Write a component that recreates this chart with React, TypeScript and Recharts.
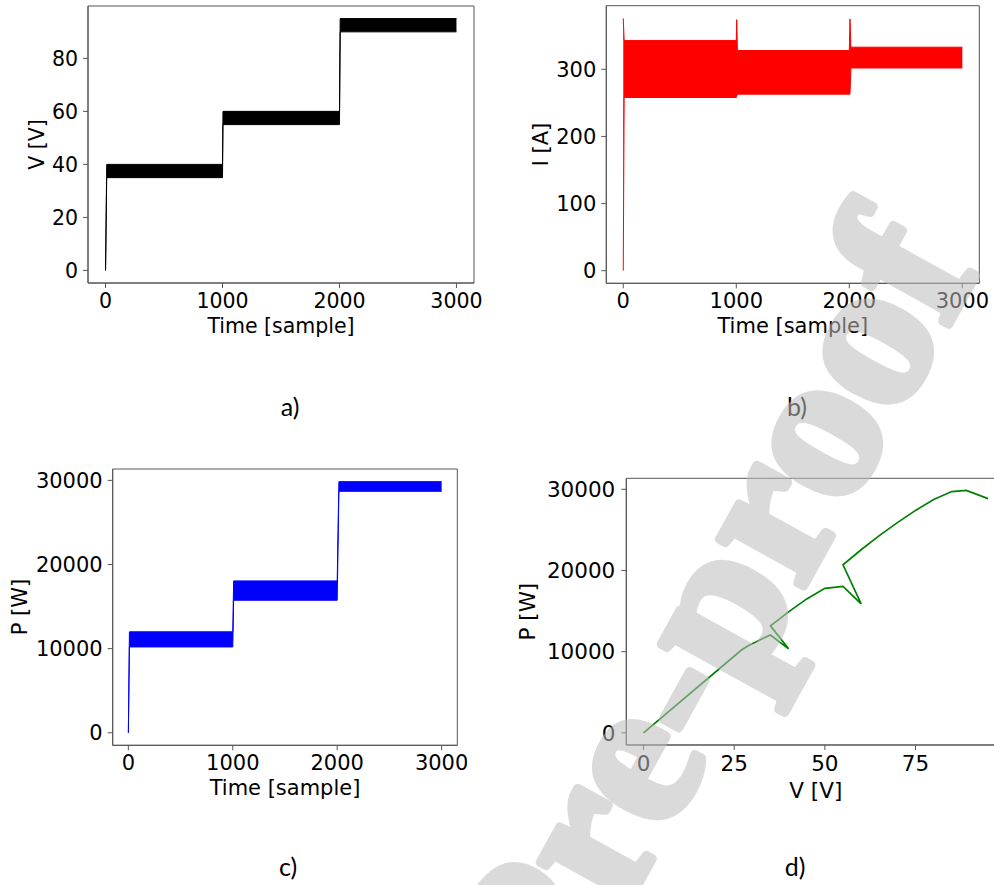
import { AreaChart, Area, LineChart, Line, XAxis, YAxis, ReferenceArea, Label } from 'recharts';

const sampleTicks = [0, 1000, 2000, 3000];
const voltageTicks = [0, 20, 40, 60, 80];
const currentTicks = [0, 100, 200, 300];
const powerTicks = [0, 10000, 20000, 30000];
const pvVoltageTicks = [0, 25, 50, 75];

// min / max envelope of the fast switching signals, per sample
const vSamples = [0, 10, 1000, 1004, 2000, 2006, 3000];
const vMin = [0, 35, 35, 55, 55, 90, 90];
const vMax = [0, 40, 40, 60, 60, 95, 95];

const iSamples = [0, 8, 1000, 1004, 1010, 2000, 2006, 2014, 3000];
const iMin = [0, 258, 258, 260, 263, 263, 263, 302, 302];
const iMax = [376, 343, 343, 374, 328, 328, 375, 333, 333];

const pSamples = [0, 10, 1000, 1008, 2000, 2016, 3000];
const pMin = [0, 10200, 10200, 15750, 15750, 28700, 28700];
const pMax = [0, 12000, 12000, 18050, 18050, 29850, 29850];

// P-V trace
const pvVoltage = [0, 27, 29, 31, 33, 35, 40, 35, 40, 45, 50, 55, 60, 55, 60, 65, 70, 75, 80, 85, 89, 95];
const pvPower = [0, 10200, 10750, 11200, 11650, 12050, 10350, 13180, 14900, 16500, 17800, 18050, 15900, 20700, 22550, 24300, 25900, 27400, 28750, 29720, 29870, 28850];

const vData = vSamples.map((t, i) => ({ t, band: [vMin[i], vMax[i]] }));
const iData = iSamples.map((t, i) => ({ t, band: [iMin[i], iMax[i]] }));
const pData = pSamples.map((t, i) => ({ t, band: [pMin[i], pMax[i]] }));
const pvData = pvVoltage.map((v, i) => ({ v, p: pvPower[i] }));

const axisColor = '#555';
const font = 'DejaVu Sans, sans-serif';

interface Box {
  left: number;
  top: number;
  width: number;
  height: number;
  mt: number;
  yw: number;
  xh: number;
}

interface BandPanelProps {
  data: { t: number; band: number[] }[];
  color: string;
  yTicks: number[];
  yDomain: [number, number];
  yLabel: string;
  box: Box;
  fontSize: number;
  yLabelDx: number;
  xLabelDy: number;
}

function BandPanel({ data, color, yTicks, yDomain, yLabel, box, fontSize, yLabelDx, xLabelDy }: BandPanelProps) {
  const xDomain: [number, number] = [-150, 3150];
  const tick = { fontSize, fill: '#000', fontFamily: font };
  return (
    <div style={{ position: 'absolute', left: box.left, top: box.top }}>
      <AreaChart width={box.width} height={box.height} data={data} margin={{ top: box.mt, right: 10, left: 0, bottom: 0 }}>
        <XAxis
          type="number"
          dataKey="t"
          domain={xDomain}
          allowDataOverflow
          ticks={sampleTicks}
          interval={0}
          height={box.xh}
          stroke={axisColor}
          tickSize={5}
          tickMargin={5}
          tick={tick}
        >
          <Label value="Time [sample]" position="center" dy={xLabelDy} fontSize={fontSize} fill="#000" fontFamily={font} />
        </XAxis>
        <YAxis
          type="number"
          domain={yDomain}
          allowDataOverflow
          ticks={yTicks}
          interval={0}
          width={box.yw}
          stroke={axisColor}
          tickSize={5}
          tickMargin={5}
          tick={tick}
        >
          <Label value={yLabel} angle={-90} position="center" dx={yLabelDx} fontSize={fontSize} fill="#000" fontFamily={font} />
        </YAxis>
        <ReferenceArea x1={xDomain[0]} x2={xDomain[1]} y1={yDomain[0]} y2={yDomain[1]} fill="none" stroke={axisColor} ifOverflow="visible" />
        <Area
          type="linear"
          dataKey="band"
          stroke={color}
          strokeWidth={1}
          fill={color}
          fillOpacity={1}
          dot={false}
          activeDot={false}
          isAnimationActive={false}
        />
      </AreaChart>
    </div>
  );
}

function PowerVoltagePanel() {
  const xDomain: [number, number] = [-4.75, 99.75];
  const yDomain: [number, number] = [-1493, 31353];
  const fontSize = 21.5;
  const tick = { fontSize, fill: '#000', fontFamily: font };
  return (
    <div style={{ position: 'absolute', left: 500, top: 450 }}>
      <LineChart width={515.3} height={360} data={pvData} margin={{ top: 28.3, right: 10, left: 0, bottom: 0 }}>
        <XAxis
          type="number"
          dataKey="v"
          domain={xDomain}
          allowDataOverflow
          ticks={pvVoltageTicks}
          interval={0}
          height={65}
          stroke={axisColor}
          tickSize={5}
          tickMargin={6}
          tick={tick}
        >
          <Label value="V [V]" position="center" dy={12.5} fontSize={fontSize} fill="#000" fontFamily={font} />
        </XAxis>
        <YAxis
          type="number"
          domain={yDomain}
          allowDataOverflow
          ticks={powerTicks}
          interval={0}
          width={126.3}
          stroke={axisColor}
          tickSize={5}
          tickMargin={6}
          tick={tick}
        >
          <Label value="P [W]" angle={-90} position="center" dx={-36.2} fontSize={fontSize} fill="#000" fontFamily={font} />
        </YAxis>
        <ReferenceArea x1={xDomain[0]} x2={xDomain[1]} y1={yDomain[0]} y2={yDomain[1]} fill="none" stroke={axisColor} ifOverflow="visible" />
        <Line type="linear" dataKey="p" stroke="#008000" strokeWidth={1.7} dot={false} activeDot={false} isAnimationActive={false} />
      </LineChart>
    </div>
  );
}

const captionStyle = {
  position: 'absolute' as const,
  transform: 'translate(-50%, -50%)',
  fontFamily: 'Lato, sans-serif',
  fontSize: 25,
  lineHeight: 1,
  color: '#000',
};

export default function App() {
  return (
    <div style={{ position: 'fixed', left: 0, top: 0, width: 994, height: 885, overflow: 'hidden', background: '#fff' }}>
      <BandPanel
        data={vData}
        color="#000000"
        yTicks={voltageTicks}
        yDomain={[-4.75, 99.75]}
        yLabel="V [V]"
        box={{ left: 0, top: 0, width: 484, height: 350, mt: 6, yw: 88, xh: 67 }}
        fontSize={20.5}
        yLabelDx={-7.5}
        xLabelDy={9.3}
      />
      <BandPanel
        data={iData}
        color="#ff0000"
        yTicks={currentTicks}
        yDomain={[-18.8, 394.8]}
        yLabel="I [A]"
        box={{ left: 500, top: 0, width: 489.3, height: 350, mt: 5.7, yw: 106.3, xh: 66.7 }}
        fontSize={21}
        yLabelDx={-12.3}
        xLabelDy={9.2}
      />
      <BandPanel
        data={pData}
        color="#0000ff"
        yTicks={powerTicks}
        yDomain={[-1493, 31353]}
        yLabel="P [W]"
        box={{ left: 0, top: 450, width: 467.3, height: 360, mt: 19, yw: 112.7, xh: 64.7 }}
        fontSize={21}
        yLabelDx={-36.6}
        xLabelDy={9.8}
      />
      <PowerVoltagePanel />

      <div style={{ ...captionStyle, left: 290, top: 406 }}>a)</div>
      <div style={{ ...captionStyle, left: 797, top: 406 }}>b)</div>
      <div style={{ ...captionStyle, left: 288, top: 866 }}>c)</div>
      <div style={{ ...captionStyle, left: 795, top: 866 }}>d)</div>

      {/* diagonal "Journal Pre-proof" watermark laid over the figure */}
      <svg width={994} height={885} style={{ position: 'absolute', left: 0, top: 0, pointerEvents: 'none' }}>
        <g opacity={0.55}>
          <text
            x={980}
            y={268}
            transform="rotate(-61 980 268)"
            textAnchor="end"
            fontFamily="Liberation Serif, serif"
            fontWeight="bold"
            fontSize={210}
            fill="#bdbdbd"
            stroke="#bdbdbd"
            strokeWidth={9}
            strokeLinejoin="round"
          >
            Journal Pre-proof
          </text>
        </g>
      </svg>
    </div>
  );
}
